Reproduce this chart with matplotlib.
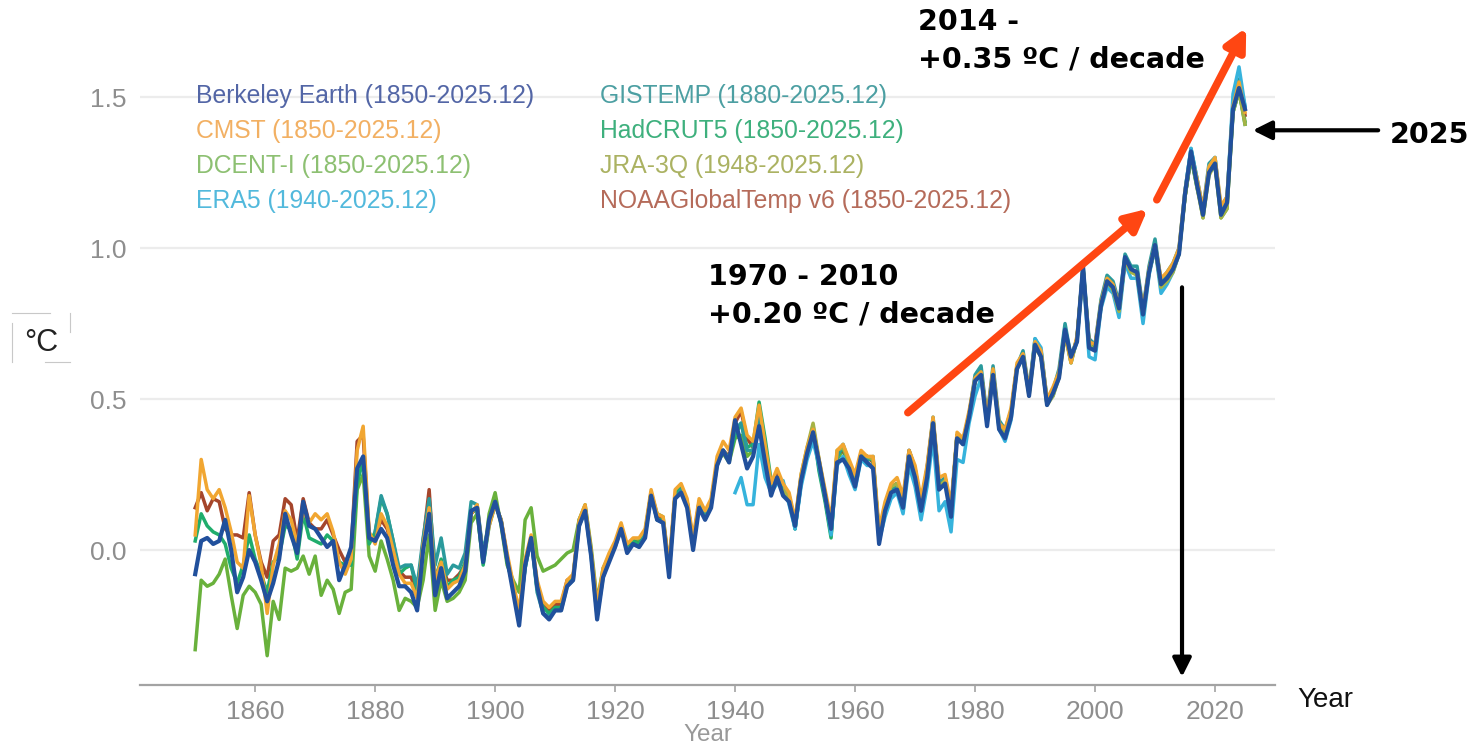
import matplotlib
matplotlib.use("Agg")
import matplotlib.pyplot as plt
from matplotlib.lines import Line2D
import numpy as np

# global temperature anomaly (deg C), one value per year
berkeley = [
    -0.08, 0.03, 0.04, 0.02, 0.03, 0.10, 0.00, -0.14, -0.09, 0.00,
    -0.04, -0.10, -0.17, -0.11, -0.03, 0.12, 0.05, -0.01, 0.16, 0.08,
    0.07, 0.04, 0.01, 0.03, -0.10, -0.05, 0.01, 0.27, 0.31, 0.04,
    0.03, 0.07, 0.04, -0.05, -0.12, -0.12, -0.14, -0.20, 0.00, 0.12,
    -0.15, -0.06, -0.16, -0.14, -0.12, -0.07, 0.13, 0.14, -0.04, 0.10,
    0.16, 0.09, -0.03, -0.14, -0.25, -0.05, 0.04, -0.12, -0.21, -0.23,
    -0.20, -0.20, -0.12, -0.10, 0.08, 0.13, -0.02, -0.23, -0.09, -0.04,
    0.01, 0.07, -0.01, 0.02, 0.01, 0.04, 0.18, 0.10, 0.09, -0.09,
    0.17, 0.19, 0.14, 0.00, 0.14, 0.10, 0.14, 0.28, 0.33, 0.29,
    0.43, 0.35, 0.27, 0.31, 0.41, 0.29, 0.18, 0.24, 0.18, 0.16,
    0.08, 0.23, 0.32, 0.39, 0.29, 0.18, 0.07, 0.29, 0.30, 0.27,
    0.21, 0.31, 0.29, 0.27, 0.02, 0.13, 0.19, 0.20, 0.14, 0.31,
    0.24, 0.13, 0.24, 0.42, 0.20, 0.22, 0.11, 0.37, 0.35, 0.44,
    0.56, 0.58, 0.41, 0.58, 0.40, 0.37, 0.44, 0.60, 0.64, 0.51,
    0.68, 0.64, 0.48, 0.52, 0.57, 0.73, 0.64, 0.69, 0.94, 0.67,
    0.66, 0.81, 0.89, 0.87, 0.80, 0.97, 0.93, 0.92, 0.78, 0.92,
    1.01, 0.88, 0.90, 0.93, 0.98, 1.18, 1.32, 1.21, 1.11, 1.25,
    1.28, 1.11, 1.15, 1.46, 1.53, 1.46]

cmst = [
    0.05, 0.30, 0.20, 0.17, 0.20, 0.14, 0.06, -0.04, -0.06, 0.18,
    0.05, -0.05, -0.21, -0.05, 0.02, 0.13, 0.10, 0.02, 0.13, 0.09,
    0.12, 0.10, 0.12, 0.06, -0.04, -0.08, -0.03, 0.33, 0.41, 0.06,
    0.02, 0.12, 0.08, 0.00, -0.08, -0.11, -0.11, -0.16, 0.02, 0.14,
    -0.10, -0.04, -0.13, -0.11, -0.10, -0.05, 0.12, 0.15, -0.03, 0.08,
    0.15, 0.10, -0.01, -0.11, -0.20, -0.03, 0.05, -0.10, -0.17, -0.19,
    -0.17, -0.17, -0.10, -0.08, 0.10, 0.15, 0.00, -0.18, -0.06, -0.01,
    0.03, 0.09, 0.02, 0.04, 0.04, 0.07, 0.20, 0.12, 0.11, -0.05,
    0.20, 0.22, 0.17, 0.04, 0.17, 0.13, 0.17, 0.31, 0.36, 0.33,
    0.44, 0.47, 0.38, 0.36, 0.48, 0.35, 0.22, 0.27, 0.22, 0.19,
    0.10, 0.25, 0.34, 0.40, 0.30, 0.20, 0.10, 0.33, 0.35, 0.30,
    0.25, 0.33, 0.31, 0.31, 0.07, 0.16, 0.22, 0.24, 0.18, 0.33,
    0.28, 0.17, 0.28, 0.44, 0.24, 0.25, 0.15, 0.39, 0.37, 0.46,
    0.57, 0.59, 0.44, 0.60, 0.42, 0.40, 0.47, 0.62, 0.65, 0.53,
    0.69, 0.66, 0.50, 0.54, 0.59, 0.72, 0.62, 0.71, 0.93, 0.69,
    0.68, 0.82, 0.90, 0.88, 0.81, 0.96, 0.93, 0.92, 0.80, 0.93,
    1.01, 0.90, 0.92, 0.95, 1.00, 1.19, 1.31, 1.23, 1.13, 1.27,
    1.30, 1.14, 1.17, 1.47, 1.55, 1.45]

dcent = [
    -0.33, -0.10, -0.12, -0.11, -0.08, -0.03, -0.15, -0.26, -0.15, -0.12,
    -0.14, -0.18, -0.35, -0.17, -0.23, -0.06, -0.07, -0.06, -0.02, -0.08,
    -0.02, -0.15, -0.10, -0.13, -0.21, -0.14, -0.13, 0.20, 0.25, -0.02,
    -0.07, 0.03, -0.03, -0.10, -0.20, -0.16, -0.17, -0.19, -0.10, 0.05,
    -0.20, -0.10, -0.17, -0.16, -0.14, -0.10, 0.09, 0.12, -0.04, 0.12,
    0.19, 0.08, -0.05, -0.10, -0.14, 0.10, 0.14, -0.02, -0.07, -0.06,
    -0.05, -0.03, -0.01, 0.00, 0.10, 0.15, 0.01, -0.17, -0.06, -0.02,
    0.02, 0.08, 0.01, 0.03, 0.03, 0.06, 0.19, 0.12, 0.11, -0.06,
    0.18, 0.21, 0.16, 0.03, 0.15, 0.12, 0.16, 0.29, 0.32, 0.29,
    0.37, 0.38, 0.31, 0.33, 0.46, 0.33, 0.20, 0.25, 0.20, 0.17,
    0.08, 0.24, 0.33, 0.41, 0.29, 0.17, 0.05, 0.30, 0.33, 0.28,
    0.22, 0.32, 0.31, 0.30, 0.04, 0.13, 0.20, 0.22, 0.15, 0.32,
    0.25, 0.14, 0.26, 0.43, 0.21, 0.23, 0.12, 0.38, 0.35, 0.44,
    0.56, 0.59, 0.43, 0.59, 0.41, 0.38, 0.45, 0.61, 0.64, 0.52,
    0.69, 0.65, 0.49, 0.52, 0.58, 0.73, 0.63, 0.70, 0.94, 0.68,
    0.67, 0.81, 0.89, 0.87, 0.80, 0.97, 0.92, 0.92, 0.78, 0.92,
    1.01, 0.87, 0.90, 0.93, 0.98, 1.17, 1.31, 1.21, 1.10, 1.25,
    1.27, 1.10, 1.13, 1.45, 1.52, 1.42]

hadcrut = [
    0.03, 0.12, 0.08, 0.06, 0.05, 0.02, -0.06, -0.11, -0.05, 0.05,
    -0.03, -0.08, -0.14, -0.04, -0.02, 0.08, 0.07, -0.03, 0.12, 0.04,
    0.03, 0.02, 0.05, 0.03, -0.04, -0.05, -0.05, 0.22, 0.30, 0.02,
    0.06, 0.17, 0.12, 0.03, -0.08, -0.06, -0.05, -0.14, 0.02, 0.11,
    -0.10, -0.03, -0.12, -0.10, -0.09, -0.04, 0.13, 0.13, -0.05, 0.08,
    0.15, 0.10, -0.04, -0.12, -0.21, -0.06, 0.04, -0.13, -0.19, -0.21,
    -0.19, -0.19, -0.11, -0.09, 0.10, 0.14, -0.01, -0.20, -0.08, -0.02,
    0.02, 0.08, 0.00, 0.03, 0.02, 0.06, 0.19, 0.10, 0.10, -0.07,
    0.18, 0.21, 0.16, 0.02, 0.16, 0.12, 0.16, 0.29, 0.33, 0.30,
    0.38, 0.42, 0.34, 0.35, 0.49, 0.37, 0.23, 0.24, 0.20, 0.18,
    0.07, 0.23, 0.31, 0.40, 0.26, 0.16, 0.04, 0.31, 0.34, 0.28,
    0.24, 0.31, 0.30, 0.30, 0.05, 0.12, 0.20, 0.22, 0.15, 0.31,
    0.25, 0.14, 0.26, 0.42, 0.21, 0.23, 0.13, 0.38, 0.35, 0.43,
    0.56, 0.59, 0.43, 0.59, 0.41, 0.38, 0.45, 0.61, 0.63, 0.52,
    0.68, 0.64, 0.48, 0.52, 0.58, 0.72, 0.62, 0.70, 0.93, 0.69,
    0.67, 0.81, 0.88, 0.87, 0.80, 0.96, 0.92, 0.92, 0.79, 0.92,
    1.00, 0.88, 0.90, 0.93, 0.99, 1.17, 1.30, 1.20, 1.12, 1.26,
    1.28, 1.12, 1.15, 1.45, 1.52, 1.41]

noaa = [
    0.14, 0.19, 0.13, 0.17, 0.16, 0.07, 0.05, 0.05, 0.04, 0.19,
    0.05, -0.04, -0.09, 0.03, 0.05, 0.17, 0.15, 0.03, 0.17, 0.09,
    0.07, 0.07, 0.10, 0.05, 0.00, -0.04, 0.00, 0.36, 0.38, 0.05,
    0.04, 0.10, 0.07, 0.00, -0.07, -0.09, -0.09, -0.15, 0.03, 0.20,
    -0.10, -0.04, -0.10, -0.10, -0.08, -0.05, 0.12, 0.14, -0.02, 0.09,
    0.15, 0.10, -0.02, -0.12, -0.21, -0.04, 0.04, -0.11, -0.18, -0.20,
    -0.18, -0.18, -0.10, -0.09, 0.09, 0.14, -0.01, -0.20, -0.07, -0.02,
    0.02, 0.08, 0.01, 0.03, 0.02, 0.05, 0.19, 0.11, 0.10, -0.06,
    0.18, 0.20, 0.16, 0.02, 0.16, 0.12, 0.15, 0.29, 0.33, 0.31,
    0.42, 0.46, 0.37, 0.34, 0.45, 0.34, 0.21, 0.25, 0.21, 0.18,
    0.09, 0.24, 0.33, 0.40, 0.28, 0.19, 0.08, 0.32, 0.33, 0.29,
    0.23, 0.32, 0.31, 0.29, 0.05, 0.14, 0.21, 0.22, 0.16, 0.33,
    0.27, 0.15, 0.27, 0.43, 0.22, 0.24, 0.13, 0.38, 0.36, 0.45,
    0.56, 0.59, 0.43, 0.59, 0.41, 0.39, 0.45, 0.61, 0.64, 0.52,
    0.68, 0.65, 0.49, 0.52, 0.58, 0.72, 0.63, 0.70, 0.93, 0.68,
    0.67, 0.81, 0.89, 0.87, 0.80, 0.96, 0.92, 0.92, 0.79, 0.92,
    1.00, 0.88, 0.91, 0.94, 0.99, 1.17, 1.30, 1.21, 1.12, 1.26,
    1.28, 1.12, 1.15, 1.46, 1.53, 1.44]

# GISTEMP starts 1880
gistemp = [
    0.06, 0.18, 0.12, 0.03, -0.06, -0.05, -0.05, -0.12, 0.04, 0.17,
    -0.05, 0.04, -0.08, -0.05, -0.06, -0.01, 0.16, 0.15, -0.01, 0.09,
    0.16, 0.09, -0.03, -0.13, -0.22, -0.06, 0.04, -0.14, -0.21, -0.22,
    -0.20, -0.20, -0.12, -0.10, 0.08, 0.13, -0.02, -0.22, -0.09, -0.03,
    0.01, 0.07, 0.00, 0.02, 0.01, 0.05, 0.18, 0.10, 0.09, -0.07,
    0.17, 0.20, 0.15, 0.01, 0.15, 0.11, 0.15, 0.28, 0.33, 0.30,
    0.40, 0.42, 0.33, 0.33, 0.46, 0.33, 0.21, 0.24, 0.19, 0.17,
    0.07, 0.22, 0.31, 0.40, 0.27, 0.17, 0.06, 0.31, 0.35, 0.29,
    0.24, 0.32, 0.30, 0.31, 0.04, 0.12, 0.19, 0.21, 0.16, 0.33,
    0.27, 0.15, 0.27, 0.44, 0.22, 0.24, 0.13, 0.38, 0.36, 0.45,
    0.58, 0.61, 0.44, 0.61, 0.43, 0.40, 0.46, 0.61, 0.66, 0.53,
    0.70, 0.66, 0.50, 0.53, 0.60, 0.75, 0.64, 0.70, 0.94, 0.70,
    0.68, 0.83, 0.91, 0.89, 0.82, 0.98, 0.94, 0.94, 0.80, 0.94,
    1.03, 0.89, 0.92, 0.95, 1.00, 1.19, 1.33, 1.23, 1.13, 1.28,
    1.30, 1.13, 1.17, 1.48, 1.56, 1.47]

# ERA5 starts 1940
era5 = [
    0.19, 0.24, 0.15, 0.15, 0.35, 0.24, 0.19, 0.22, 0.23, 0.15,
    0.07, 0.21, 0.30, 0.36, 0.28, 0.18, 0.05, 0.28, 0.31, 0.25,
    0.20, 0.30, 0.28, 0.28, 0.03, 0.11, 0.17, 0.19, 0.12, 0.28,
    0.21, 0.10, 0.21, 0.37, 0.13, 0.16, 0.06, 0.30, 0.29, 0.42,
    0.51, 0.57, 0.42, 0.58, 0.40, 0.36, 0.43, 0.60, 0.64, 0.52,
    0.70, 0.67, 0.49, 0.51, 0.58, 0.73, 0.63, 0.69, 0.92, 0.64,
    0.63, 0.80, 0.87, 0.85, 0.77, 0.95, 0.90, 0.90, 0.75, 0.91,
    1.00, 0.85, 0.88, 0.92, 0.98, 1.19, 1.33, 1.23, 1.11, 1.27,
    1.30, 1.12, 1.16, 1.51, 1.60, 1.47]

# JRA-3Q starts 1948
jra3q = [
    0.20, 0.17,
    0.09, 0.25, 0.34, 0.42, 0.30, 0.19, 0.08, 0.33, 0.34, 0.29,
    0.23, 0.32, 0.31, 0.30, 0.05, 0.15, 0.21, 0.22, 0.15, 0.32,
    0.25, 0.15, 0.26, 0.43, 0.21, 0.23, 0.12, 0.38, 0.36, 0.45,
    0.56, 0.58, 0.43, 0.58, 0.41, 0.38, 0.45, 0.61, 0.64, 0.51,
    0.67, 0.64, 0.48, 0.51, 0.57, 0.71, 0.62, 0.70, 0.93, 0.68,
    0.66, 0.81, 0.89, 0.86, 0.79, 0.96, 0.92, 0.91, 0.78, 0.92,
    1.00, 0.87, 0.89, 0.92, 0.98, 1.17, 1.31, 1.20, 1.10, 1.24,
    1.28, 1.10, 1.13, 1.45, 1.52, 1.41]

labels = ['Berkeley Earth (1850-2025.12)', 'CMST (1850-2025.12)',
          'DCENT-I (1850-2025.12)', 'ERA5 (1940-2025.12)',
          'GISTEMP (1880-2025.12)', 'HadCRUT5 (1850-2025.12)',
          'JRA-3Q (1948-2025.12)', 'NOAAGlobalTemp v6 (1850-2025.12)']
line_cols = ['#21509c', '#f1a631', '#69b13c', '#36b3dc',
             '#2a9a9c', '#20ad6c', '#a5b345', '#a5452b']
text_cols = ['#5366a6', '#f2b063', '#8dc072', '#52b9dc',
             '#4c9fa2', '#3eb07d', '#abb262', '#b56b5a']

W, H = 1478, 747
fig = plt.figure(figsize=(W / 100, H / 100), dpi=100)
ax = fig.add_axes([140 / W, 1 - 685 / H, (1275 - 140) / W, (685 - 40) / H])

# plot order: Berkeley last, on top
series = [(dcent, 1850, 2), (noaa, 1850, 7), (hadcrut, 1850, 5),
          (gistemp, 1880, 4), (era5, 1940, 3), (jra3q, 1948, 6),
          (cmst, 1850, 1), (berkeley, 1850, 0)]
for vals, start, i in series:
    yrs = np.arange(start, start + len(vals))
    ax.plot(yrs, vals, color=line_cols[i], lw=3.0 if i == 0 else 2.5,
            solid_joinstyle='round')

ax.set_xlim(1840.8, 2030)
ax.set_ylim(-0.447, 1.689)
ax.set_yticks([0, 0.5, 1.0, 1.5])
ax.set_yticklabels(['0.0', '0.5', '1.0', '1.5'])
ax.set_xticks(range(1860, 2021, 20))
ax.yaxis.grid(True, color='#ececec', lw=1.6)
ax.set_axisbelow(True)
for s in ['top', 'right', 'left']:
    ax.spines[s].set_visible(False)
ax.spines['bottom'].set_color('#a3a3a3')
ax.spines['bottom'].set_linewidth(1.6)
ax.tick_params(axis='y', length=0, pad=10, labelsize=19, labelcolor='#8e8e8e')
ax.tick_params(axis='x', length=5, width=1.2, color='#a3a3a3', pad=6,
               labelsize=19, labelcolor='#8e8e8e')
for t in ax.get_xticklabels() + ax.get_yticklabels():
    t.set_fontfamily('Liberation Sans')
ax.set_xlabel('Year', fontsize=17.5, color='#999999', family='Liberation Sans',
              labelpad=0)

# legend as coloured text, two columns
rows = [96, 131, 166, 201]
for i, lab in enumerate(labels):
    x = 196 if i < 4 else 600
    fig.text(x / W, 1 - rows[i % 4] / H, lab, color=text_cols[i], fontsize=17.8,
             family='Liberation Sans', va='center')

# annotations
red = '#ff4612'
ax.annotate('', xy=(2008.8, 1.13), xytext=(1968.8, 0.455),
            arrowprops=dict(arrowstyle='-|>', color=red, lw=5.5,
                            mutation_scale=32, shrinkA=0, shrinkB=0),
            annotation_clip=False)
ax.annotate('', xy=(2025.2, 1.73), xytext=(2010.3, 1.16),
            arrowprops=dict(arrowstyle='-|>', color=red, lw=5.5,
                            mutation_scale=32, shrinkA=0, shrinkB=0),
            annotation_clip=False)
ax.annotate('', xy=(2026.3, 1.39), xytext=(2047.2, 1.39),
            arrowprops=dict(arrowstyle='-|>', color='black', lw=3,
                            mutation_scale=28, shrinkA=0, shrinkB=0),
            annotation_clip=False)
ax.annotate('', xy=(2014.5, -0.42), xytext=(2014.5, 0.87),
            arrowprops=dict(arrowstyle='-|>', color='black', lw=3,
                            mutation_scale=28, shrinkA=0, shrinkB=0),
            annotation_clip=False)

bold = dict(fontsize=20.5, fontweight='bold', family='DejaVu Sans',
            color='black', va='center', ha='left', clip_on=False)
ax.text(1935.5, 0.905, '1970 - 2010', **bold)
ax.text(1935.5, 0.78, '+0.20 ºC / decade', **bold)
ax.text(1970.5, 1.75, '2014 -', **bold)
ax.text(1970.5, 1.625, '+0.35 ºC / decade', **bold)
ax.text(2049.2, 1.375, '2025', **bold)

fig.text(1297 / W, 1 - 700 / H, 'Year', fontsize=20, color='#111111',
         family='Liberation Sans', va='center')

# unit label with its cropped frame
fig.text(41 / W, 1 - 343 / H, '°C', fontsize=22, color='#222222',
         family='Liberation Sans', va='center', ha='center')
frame = [((12, 50), (313, 313)), ((12, 12), (323, 362)),
         ((70, 70), (313, 332)), ((45, 70), (362, 362))]
for xs, ys in frame:
    fig.add_artist(Line2D([x / W for x in xs], [1 - y / H for y in ys],
                          transform=fig.transFigure, color='#c8c8c8', lw=0.8))

fig.savefig('out.png', dpi=100)
